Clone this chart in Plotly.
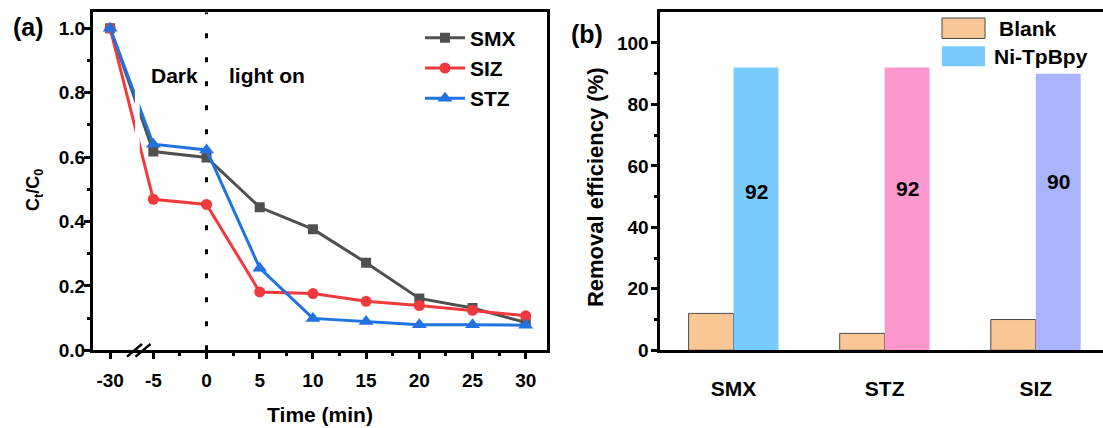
import plotly.graph_objects as go

# ---------------- data ----------------
times = [-30, -5, 0, 5, 10, 15, 20, 25, 30]
time_labels = ["-30", "-5", "0", "5", "10", "15", "20", "25", "30"]
smx = [1.0, 0.617, 0.599, 0.444, 0.376, 0.272, 0.161, 0.131, 0.086]
siz = [1.0, 0.469, 0.453, 0.181, 0.176, 0.152, 0.139, 0.124, 0.107]
stz = [1.0, 0.640, 0.622, 0.255, 0.099, 0.089, 0.079, 0.079, 0.078]

pollutants = ["SMX", "STZ", "SIZ"]
blank_removal = [12, 5.5, 10]
nitpbpy_removal = [92, 92, 90]
series_names = ["Blank", "Ni-TpBpy"]

# ---------------- styling ----------------
W, H = 1103, 428
FONT = "Liberation Sans, Arial, sans-serif"
BLACK = "#000000"
C_SMX, C_SIZ, C_STZ = "#505050", "#F03A3D", "#2272E0"
C_BLANK = "#F9C795"
BAR_COLORS = ["#7ACBFD", "#FC98CE", "#AAB4FC"]
LABEL_Y = [51.5, 52.7, 55.0]  # heights of the in-bar value labels


def px_x(v):
    return v / W


def px_y(v):
    return 1 - v / H


# broken time axis: everything before -5 min is compressed next to the break
BREAK_AT = -5
BREAK_SCALE = 4.06 / 25


def to_axis(t):
    return t if t >= BREAK_AT else BREAK_AT + (t - BREAK_AT) * BREAK_SCALE


xpos = [to_axis(t) for t in times]

fig = go.Figure()

for name, vals, col, sym, size in [
    ("SMX", smx, C_SMX, "square", 10),
    ("SIZ", siz, C_SIZ, "circle", 11),
    ("STZ", stz, C_STZ, "triangle-up", 13),
]:
    fig.add_trace(go.Scatter(
        x=xpos, y=vals, name=name, mode="lines+markers",
        line=dict(color=col, width=3),
        marker=dict(symbol=sym, size=size, color=col),
        xaxis="x", yaxis="y", legend="legend",
    ))

cat_x = list(range(len(pollutants)))
fig.add_trace(go.Bar(
    x=cat_x, y=blank_removal, name=series_names[0],
    marker=dict(color=C_BLANK, line=dict(color="#4a4a4a", width=1)),
    xaxis="x2", yaxis="y2", showlegend=False,
))
fig.add_trace(go.Bar(
    x=cat_x, y=nitpbpy_removal, name=series_names[1],
    marker=dict(color=BAR_COLORS, line=dict(width=0)),
    xaxis="x2", yaxis="y2", showlegend=False,
))

tick_font = dict(family=FONT, size=19, color=BLACK, weight="bold")
title_font = dict(family=FONT, size=21, color=BLACK, weight="bold")

left_dom = [px_x(93), px_x(547)]
right_dom = [px_x(659.5), 1.0]
y_dom = [px_y(359.5), px_y(12.5)]

minor_x = [-2.5, 2.5, 7.5, 12.5, 17.5, 22.5, 27.5]

fig.update_layout(
    width=W, height=H,
    margin=dict(l=0, r=0, t=0, b=0),
    paper_bgcolor="white", plot_bgcolor="white",
    barmode="group", bargap=0.405, bargroupgap=0,
    xaxis=dict(
        domain=left_dom, range=[-10.67, 32.0],
        tickvals=xpos, ticktext=time_labels,
        showline=True, linewidth=3, linecolor=BLACK, mirror=True,
        ticks="outside", ticklen=6, tickwidth=2.5, tickcolor=BLACK,
        minor=dict(tickvals=minor_x, ticks="outside", ticklen=3, tickwidth=2.5, tickcolor=BLACK),
        showgrid=False, zeroline=False, tickfont=tick_font, ticklabelstandoff=5,
        title=dict(text="Time (min)", font=title_font, standoff=18),
    ),
    yaxis=dict(
        domain=y_dom, range=[0, 1.05], anchor="x",
        tickvals=[0, 0.2, 0.4, 0.6, 0.8, 1.0], tickformat=".1f",
        showline=True, linewidth=3, linecolor=BLACK, mirror=True,
        ticks="outside", ticklen=6, tickwidth=2.5, tickcolor=BLACK,
        minor=dict(tickvals=[0.1, 0.3, 0.5, 0.7, 0.9], ticks="outside", ticklen=3,
                   tickwidth=2.5, tickcolor=BLACK),
        showgrid=False, zeroline=False, tickfont=tick_font, ticklabelstandoff=-5,
    ),
    xaxis2=dict(
        domain=right_dom, range=[-0.49, 2.445], anchor="y2",
        tickvals=cat_x, ticktext=pollutants,
        showline=True, linewidth=3, linecolor=BLACK, mirror=True,
        ticks="", showgrid=False, zeroline=False,
        tickfont=dict(family=FONT, size=21, color=BLACK, weight="bold"),
        ticklabelstandoff=18,
    ),
    yaxis2=dict(
        domain=y_dom, range=[0, 110], anchor="x2",
        tickvals=[0, 20, 40, 60, 80, 100],
        showline=True, linewidth=3, linecolor=BLACK, mirror=False,
        ticks="outside", ticklen=6, tickwidth=2.5, tickcolor=BLACK,
        minor=dict(tickvals=[10, 30, 50, 70, 90], ticks="outside", ticklen=3,
                   tickwidth=2.5, tickcolor=BLACK),
        showgrid=False, zeroline=False, tickfont=tick_font, ticklabelstandoff=-2,
    ),
    legend=dict(
        x=px_x(420), y=px_y(18), xanchor="left", yanchor="top",
        bgcolor="rgba(0,0,0,0)", borderwidth=0,
        font=dict(family=FONT, size=21, color=BLACK, weight="bold"),
        itemwidth=40, tracegroupgap=0,
    ),
    showlegend=True,
)

shapes = []
# light-on marker at t = 0
shapes.append(dict(type="line", xref="x", yref="y", x0=0, x1=0, y0=0, y1=1.05,
                   line=dict(color=BLACK, width=3, dash="5px,19px"), layer="below"))
# gap through the curves at the axis break
shapes.append(dict(type="rect", xref="x", yref="y", x0=-6.72, x1=-6.28, y0=0.55, y1=0.85,
                   fillcolor="white", line=dict(width=0), layer="above"))
# axis-break slashes
for dx in (0, 8.5):
    shapes.append(dict(type="line", xref="paper", yref="paper",
                       x0=px_x(127 + dx), y0=px_y(366), x1=px_x(142 + dx), y1=px_y(353),
                       line=dict(color=BLACK, width=2.5), layer="above"))
# bar legend swatches
shapes.append(dict(type="rect", xref="paper", yref="paper",
                   x0=px_x(942), x1=px_x(985), y0=px_y(39.5), y1=px_y(18.5),
                   fillcolor=C_BLANK, line=dict(color="#4a4a4a", width=1)))
shapes.append(dict(type="rect", xref="paper", yref="paper",
                   x0=px_x(942), x1=px_x(985), y0=px_y(68), y1=px_y(47.5),
                   fillcolor=BAR_COLORS[0], line=dict(width=0)))
fig.update_layout(shapes=shapes)

big = dict(family=FONT, size=21, color=BLACK, weight="bold")


def label(text, x, y, font, xref="paper", yref="paper", xanchor="center", angle=0):
    return dict(text=text, xref=xref, yref=yref, x=x, y=y, xanchor=xanchor,
                yanchor="middle", textangle=angle, showarrow=False, font=font)


ann = [
    label("(a)", px_x(28), px_y(28), dict(family=FONT, size=25, color=BLACK, weight="bold")),
    label("(b)", px_x(587), px_y(35), dict(family=FONT, size=25, color=BLACK, weight="bold")),
    label("C<sub>t</sub>/C<sub>0</sub>", px_x(35), px_y(195),
          dict(family=FONT, size=18, color=BLACK, weight="bold"), angle=-90),
    label("Removal efficiency (%)", px_x(595), px_y(192),
          dict(family=FONT, size=22, color=BLACK, weight="bold"), angle=-90),
    label("Dark", -3.0, 0.852, big, xref="x", yref="y"),
    label("light on", 5.7, 0.852, big, xref="x", yref="y"),
    label(series_names[0], px_x(997), px_y(29), big, xanchor="left"),
    label(series_names[1], px_x(992), px_y(58), big, xanchor="left"),
]
group_w = 1 - 0.405
for i, v in enumerate(nitpbpy_removal):
    ann.append(label(f"{v:g}", i + group_w / 4, LABEL_Y[i], big, xref="x2", yref="y2"))
fig.update_layout(annotations=ann)

fig.write_html("out.html")
